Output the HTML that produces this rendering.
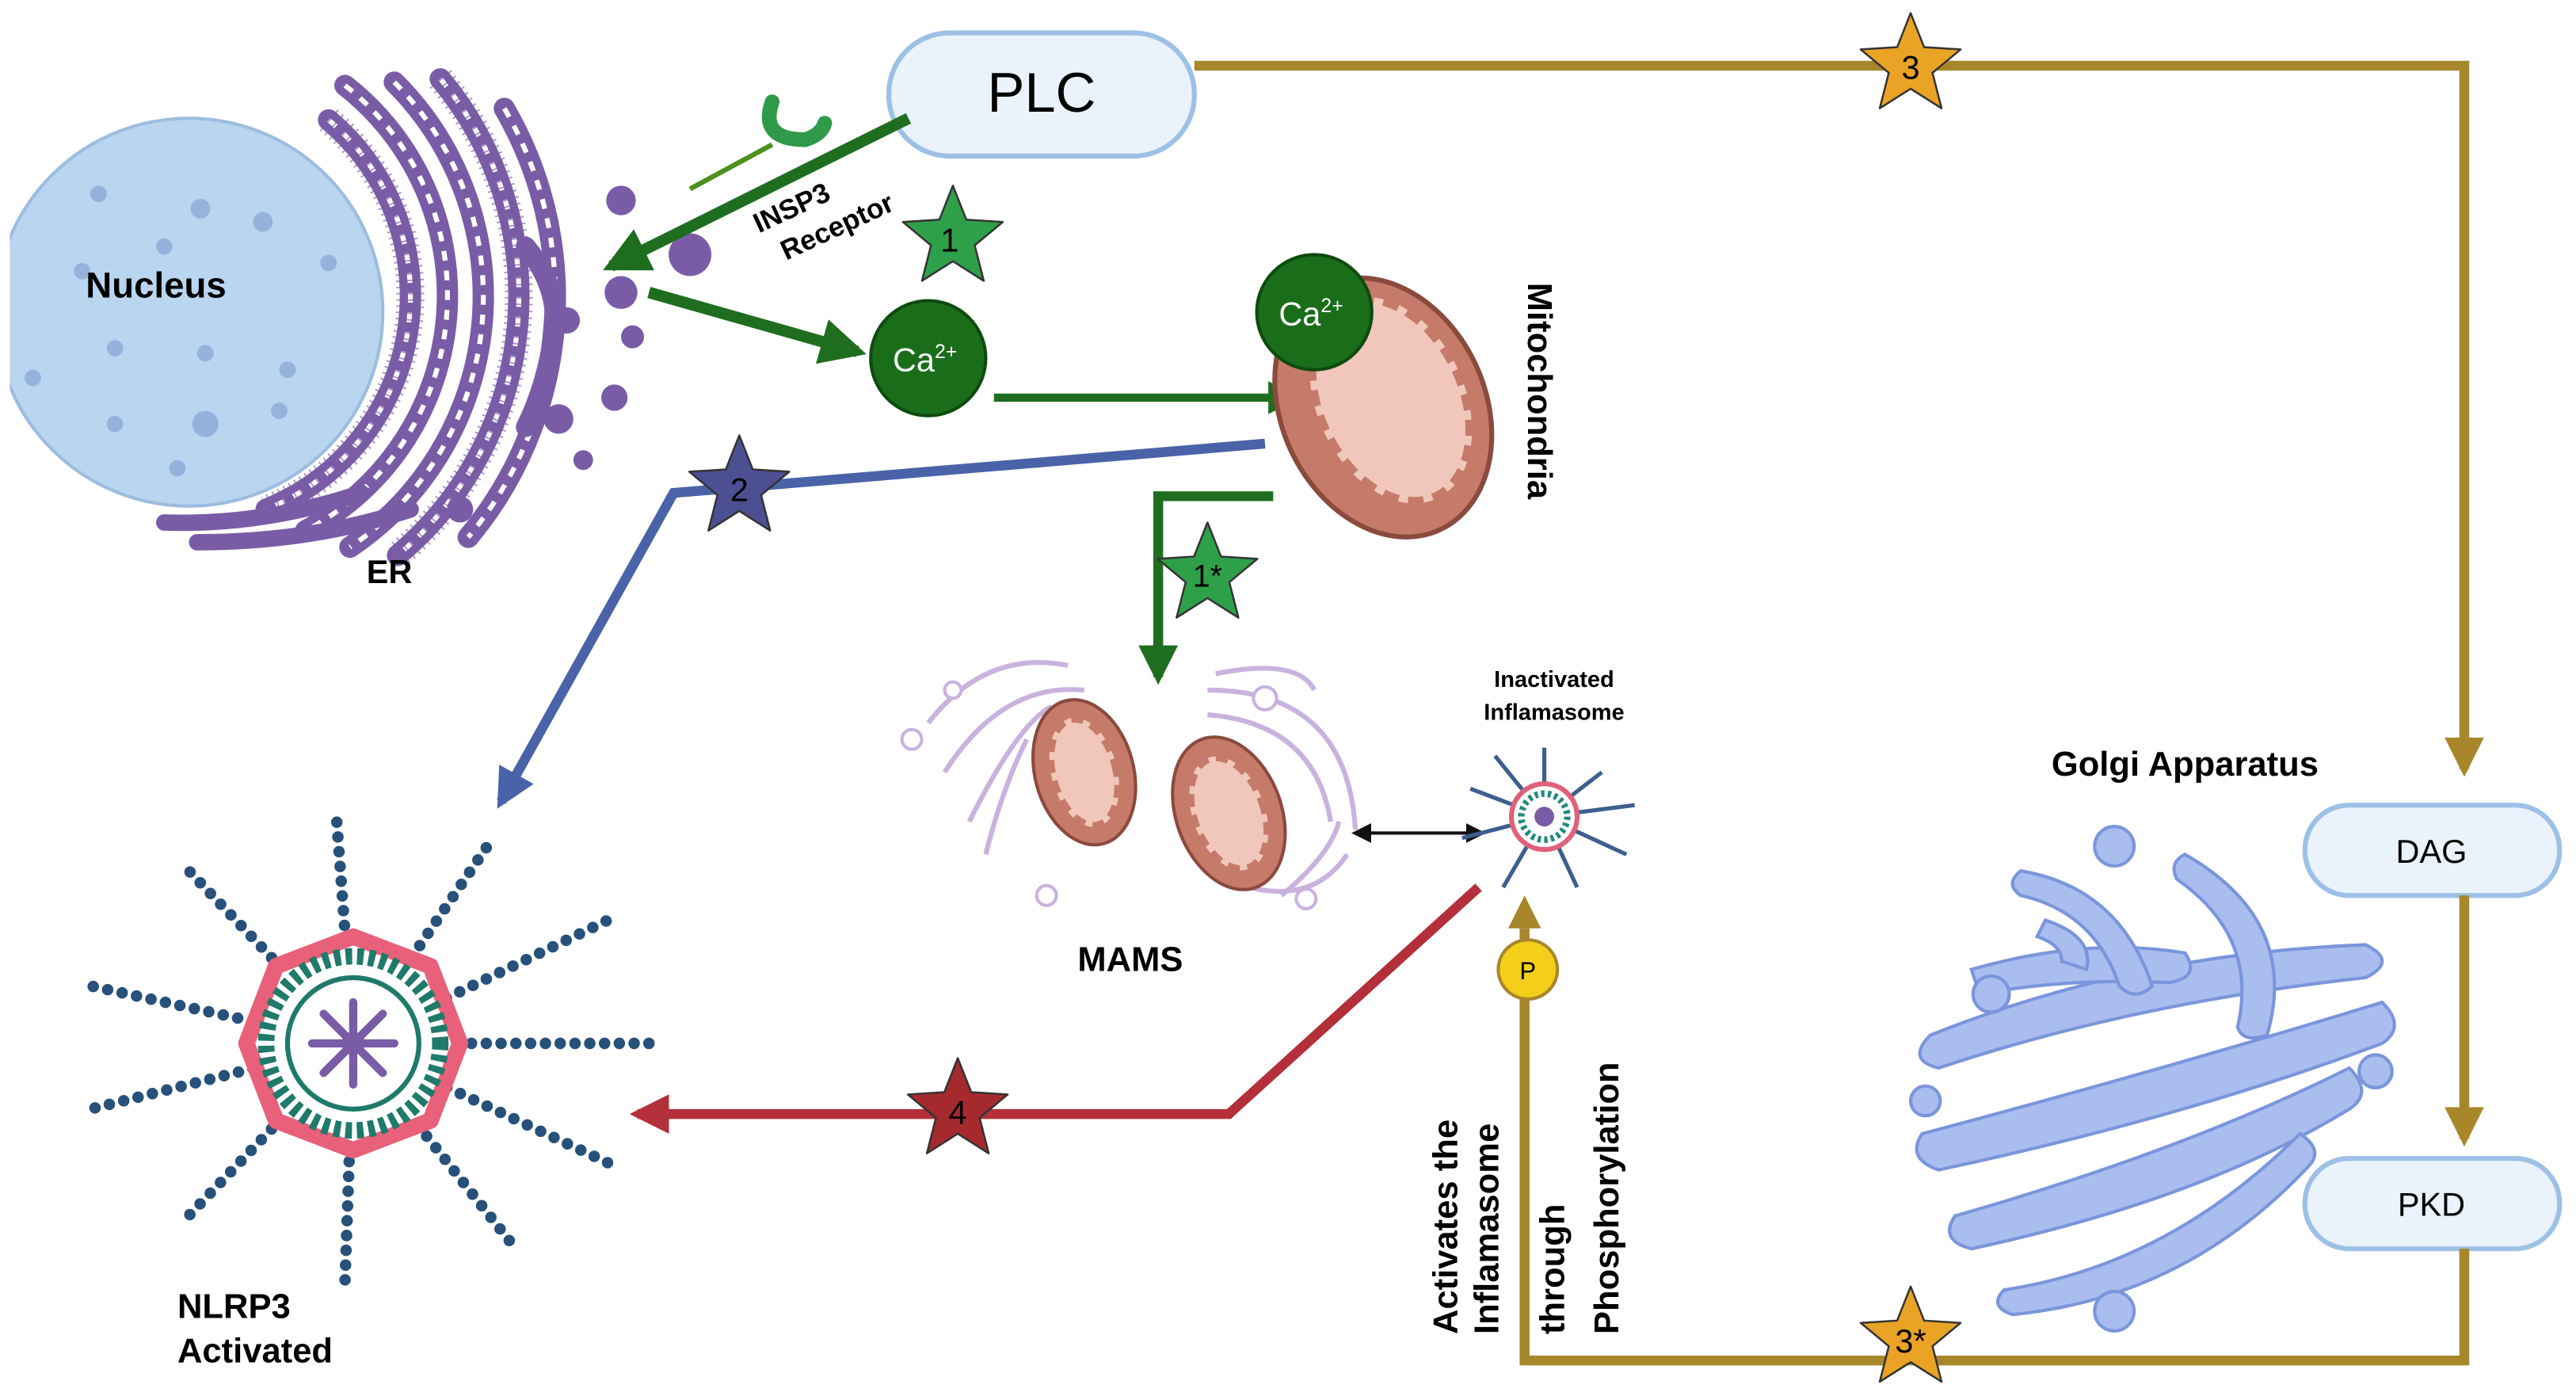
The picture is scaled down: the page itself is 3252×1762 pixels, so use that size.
<!DOCTYPE html>
<html><head><meta charset="utf-8"><style>
html,body{margin:0;padding:0;background:#fff;}
svg{display:block;}
text{font-family:"Liberation Sans",Arial,sans-serif;}
</style></head><body>
<svg width="3252" height="1762" viewBox="0 0 1568 849.6" preserveAspectRatio="none" xmlns="http://www.w3.org/2000/svg">
<defs>
<polygon id="star" points="0,-32 8.2,-11.3 30.4,-9.9 13.3,4.3 18.8,25.9 0,14 -18.8,25.9 -13.3,4.3 -30.4,-9.9 -8.2,-11.3" stroke="#333" stroke-width="1.2" stroke-linejoin="round"/>
<marker id="ag" viewBox="0 0 10 10" refX="8" refY="5" markerWidth="4" markerHeight="4" orient="auto-start-reverse"><path d="M0,0 L10,5 L0,10 z" fill="#1f6e1f"/></marker>
<marker id="ab" viewBox="0 0 10 10" refX="8" refY="5" markerWidth="4" markerHeight="4" orient="auto"><path d="M0,0 L10,5 L0,10 z" fill="#4a63a8"/></marker>
<marker id="ar" viewBox="0 0 10 10" refX="8" refY="5" markerWidth="4" markerHeight="4" orient="auto"><path d="M0,0 L10,5 L0,10 z" fill="#b3303a"/></marker>
<marker id="ao" viewBox="0 0 10 10" refX="8" refY="5" markerWidth="4" markerHeight="4" orient="auto"><path d="M0,0 L10,5 L0,10 z" fill="#a8862a"/></marker>
<marker id="ak" viewBox="0 0 10 10" refX="8" refY="5" markerWidth="6" markerHeight="6" orient="auto-start-reverse"><path d="M0,0 L10,5 L0,10 z" fill="#111"/></marker>
</defs>

<!-- Nucleus -->
<circle cx="115" cy="190" r="118" fill="#b9d5f0" stroke="#9cbde0" stroke-width="2"/>
<rect x="0" y="60" width="6" height="270" fill="#fff"/>
<g fill="#93b3dd">
<circle cx="122" cy="127" r="6"/><circle cx="60" cy="118" r="5"/><circle cx="100" cy="150" r="5"/><circle cx="50" cy="165" r="5"/><circle cx="160" cy="135" r="6"/><circle cx="70" cy="212" r="5"/><circle cx="125" cy="215" r="5"/><circle cx="175" cy="225" r="5"/><circle cx="70" cy="258" r="5"/><circle cx="125" cy="258" r="8"/><circle cx="170" cy="250" r="5"/><circle cx="108" cy="285" r="5"/><circle cx="200" cy="160" r="5"/><circle cx="20" cy="230" r="5"/>
</g>
<text x="95" y="181" font-size="22" font-weight="bold" text-anchor="middle">Nucleus</text>

<!-- ER -->
<g fill="none" stroke="#7a5ca6" stroke-linecap="round" stroke-width="13">
<path d="M200,73 A140,140 0 0 1 162,310"/>
<path d="M210,52 A162,162 0 0 1 186,323"/>
<path d="M240,50 A184,184 0 0 1 213,333"/>
<path d="M268,48 A206,206 0 0 1 242,338"/>
<path d="M307,66 A228,228 0 0 1 285,327"/>
</g>
<g fill="none" stroke="#fff" stroke-width="3" stroke-dasharray="6 6">
<path d="M200,73 A140,140 0 0 1 162,310"/>
<path d="M210,52 A162,162 0 0 1 186,323"/>
<path d="M240,50 A184,184 0 0 1 213,333"/>
<path d="M268,48 A206,206 0 0 1 242,338"/>
<path d="M307,66 A228,228 0 0 1 285,327"/>
</g>
<g fill="none" stroke="#7a5ca6" stroke-width="12" stroke-dasharray="1 3">
<path d="M200,73 A140,140 0 0 1 162,310" stroke-width="17" stroke-opacity="0.6"/>
<path d="M268,48 A206,206 0 0 1 242,338" stroke-width="17" stroke-opacity="0.6"/>
</g>
<path d="M100,318 Q160,320 220,300 M120,330 Q190,330 250,310" fill="none" stroke="#7a5ca6" stroke-width="10" stroke-linecap="round"/>
<path d="M320,150 Q345,180 335,215 Q330,240 320,260" fill="none" stroke="#7a5ca6" stroke-width="12" stroke-linecap="round"/>
<g fill="#7a5ca6"><circle cx="378" cy="122" r="9"/><circle cx="420" cy="155" r="13"/><circle cx="378" cy="178" r="10"/><circle cx="385" cy="205" r="7"/><circle cx="374" cy="242" r="8"/><circle cx="340" cy="255" r="9"/><circle cx="280" cy="310" r="8"/><circle cx="355" cy="280" r="6"/><circle cx="345" cy="195" r="8"/></g>
<text x="237" y="355" font-size="20" font-weight="bold" text-anchor="middle">ER</text>

<!-- PLC -->
<rect x="541" y="20" width="186" height="75" rx="37" fill="#eaf2fb" stroke="#9dc0e6" stroke-width="3"/>
<text x="634" y="68" font-size="34" text-anchor="middle">PLC</text>

<!-- gold path -->
<polyline points="727,40 1500,40 1500,468" fill="none" stroke="#a8862a" stroke-width="6" marker-end="url(#ao)"/>
<use href="#star" x="1163" y="40" fill="#e9a325"/>
<text x="1163" y="48" font-size="20" text-anchor="middle">3</text>
<rect x="1403" y="490" width="155" height="55" rx="27" fill="#eaf2fb" stroke="#9dc0e6" stroke-width="3"/>
<text x="1480" y="525" font-size="20" text-anchor="middle">DAG</text>
<line x1="1500" y1="545" x2="1500" y2="693" stroke="#a8862a" stroke-width="6" marker-end="url(#ao)"/>
<rect x="1403" y="705" width="155" height="55" rx="27" fill="#eaf2fb" stroke="#9dc0e6" stroke-width="3"/>
<text x="1480" y="740" font-size="20" text-anchor="middle">PKD</text>
<polyline points="1500,760 1500,828 928,828 928,565" fill="none" stroke="#a8862a" stroke-width="6"/>
<polygon points="928,545 918,565 938,565" fill="#a8862a"/>
<use href="#star" x="1163" y="815" fill="#e9a325"/>
<text x="1163" y="823" font-size="20" text-anchor="middle">3*</text>
<circle cx="930" cy="590" r="18" fill="#f3cf1a" stroke="#a8862a" stroke-width="2"/>
<text x="930" y="596" font-size="15" text-anchor="middle">P</text>
<g font-size="21" font-weight="bold" text-anchor="start">
<text transform="translate(887,812) rotate(-90)">Activates the</text>
<text transform="translate(912,812) rotate(-90)">Inflamasome</text>
<text transform="translate(952,812) rotate(-90)">through</text>
<text transform="translate(985,812) rotate(-90)">Phosphorylation</text>
</g>

<!-- Golgi -->
<g fill="#a9bdef" stroke="#7b95dc" stroke-width="2">
<path d="M1175,630 Q1300,580 1440,575 Q1460,585 1440,595 Q1300,610 1180,650 Q1160,645 1175,630z"/>
<path d="M1200,590 Q1270,570 1330,580 Q1340,595 1320,598 Q1260,595 1205,605z"/>
<path d="M1170,690 Q1320,650 1450,610 Q1465,625 1450,635 Q1330,680 1180,712 Q1160,705 1170,690z"/>
<path d="M1190,740 Q1330,700 1430,650 Q1445,665 1430,675 Q1340,730 1200,760 Q1180,755 1190,740z"/>
<path d="M1230,530 Q1290,540 1310,600 Q1300,610 1290,600 Q1275,555 1230,545 Q1220,538 1230,530z"/>
<path d="M1330,520 Q1400,560 1380,630 Q1365,635 1362,625 Q1375,570 1325,535 Q1320,525 1330,520z"/>
<path d="M1245,560 Q1275,570 1270,590 L1255,585 Q1255,575 1240,570z"/>
<path d="M1220,785 Q1320,770 1400,690 Q1415,700 1405,710 Q1330,790 1225,800 Q1210,795 1220,785z"/>
</g>
<g fill="#a9bdef" stroke="#7b95dc" stroke-width="2"><circle cx="1287" cy="515" r="12"/><circle cx="1212" cy="605" r="11"/><circle cx="1172" cy="670" r="9"/><circle cx="1446" cy="652" r="10"/><circle cx="1287" cy="798" r="12"/></g>
<text x="1330" y="472" font-size="21" font-weight="bold" text-anchor="middle">Golgi Apparatus</text>

<!-- Green arrows -->
<line x1="420" y1="115" x2="470" y2="88" stroke="#4e8f1e" stroke-width="3"/>
<path d="M470,62 Q462,85 490,85 Q500,82 502,75" fill="none" stroke="#2f9a4a" stroke-width="9" stroke-linecap="round"/>
<line x1="553" y1="72" x2="372" y2="162" stroke="#1f6e1f" stroke-width="7" marker-end="url(#ag)"/>
<g transform="translate(462,142) rotate(-25)" font-size="17" font-weight="bold"><text x="0" y="0">INSP3</text><text x="8" y="22">Receptor</text></g>
<use href="#star" x="580" y="145" fill="#2fa04a"/>
<text x="578" y="153" font-size="20" text-anchor="middle">1</text>
<line x1="395" y1="178" x2="522" y2="214" stroke="#1f6e1f" stroke-width="7" marker-end="url(#ag)"/>
<circle cx="565" cy="218" r="35" fill="#1a6e1a" stroke="#0f4a0f" stroke-width="2"/>
<text x="563" y="226" font-size="20" fill="#fff" text-anchor="middle">Ca<tspan font-size="12" dy="-8">2+</tspan></text>
<line x1="605" y1="242" x2="788" y2="242" stroke="#1f6e1f" stroke-width="5" marker-end="url(#ag)"/>

<!-- Mitochondria -->
<g transform="translate(842,248) rotate(-25)">
<ellipse cx="0" cy="0" rx="62" ry="82" fill="#c67a6a" stroke="#8a4a3e" stroke-width="3"/>
<ellipse cx="6" cy="-2" rx="45" ry="66" fill="#f1c7bc" stroke="#c67a6a" stroke-width="8" stroke-dasharray="10 6"/>
</g>
<circle cx="800" cy="190" r="35" fill="#1a6e1a" stroke="#0f4a0f" stroke-width="2"/>
<text x="798" y="198" font-size="20" fill="#fff" text-anchor="middle">Ca<tspan font-size="12" dy="-8">2+</tspan></text>
<text transform="translate(930,172) rotate(90)" font-size="21" font-weight="bold">Mitochondria</text>

<polyline points="775,302 705,302 705,412" fill="none" stroke="#1f6e1f" stroke-width="6" marker-end="url(#ag)"/>
<use href="#star" x="735" y="350" fill="#2fa04a"/>
<text x="735" y="357" font-size="19" text-anchor="middle">1*</text>

<!-- blue path -->
<polyline points="770,270 410,300 305,488" fill="none" stroke="#4a63a8" stroke-width="6" marker-end="url(#ab)"/>
<use href="#star" x="450" y="297" fill="#4d4f93"/>
<text x="450" y="305" font-size="20" text-anchor="middle">2</text>

<!-- MAMS -->
<g fill="none" stroke="#c9b3de" stroke-width="3">
<path d="M565,440 Q600,395 650,405"/><path d="M575,470 Q610,415 660,420"/><path d="M590,500 Q620,440 640,430"/><path d="M600,520 Q610,480 625,450"/>
<path d="M735,435 Q800,440 810,500"/><path d="M735,420 Q820,420 825,505"/><path d="M780,545 Q810,520 815,500"/><path d="M760,540 Q800,550 820,520"/><path d="M740,410 Q790,400 800,420"/>
</g>
<g fill="#fff" stroke="#c9b3de" stroke-width="2"><circle cx="555" cy="450" r="6"/><circle cx="637" cy="545" r="6"/><circle cx="770" cy="425" r="7"/><circle cx="795" cy="547" r="6"/><circle cx="580" cy="420" r="5"/></g>
<g transform="translate(660,470) rotate(-15)"><ellipse rx="30" ry="45" fill="#c67a6a" stroke="#8a4a3e" stroke-width="2"/><ellipse rx="20" ry="34" fill="#f1c7bc" stroke="#c67a6a" stroke-width="6" stroke-dasharray="8 5"/></g>
<g transform="translate(748,495) rotate(-20)"><ellipse rx="32" ry="48" fill="#c67a6a" stroke="#8a4a3e" stroke-width="2"/><ellipse rx="22" ry="36" fill="#f1c7bc" stroke="#c67a6a" stroke-width="6" stroke-dasharray="8 5"/></g>
<text x="688" y="591" font-size="21" font-weight="bold" text-anchor="middle">MAMS</text>
<line x1="825" y1="507" x2="902" y2="507" stroke="#111" stroke-width="2" marker-start="url(#ak)" marker-end="url(#ak)"/>

<!-- inactivated -->
<g stroke="#3d5f8f" stroke-width="2.5">
<line x1="940" y1="497" x2="940" y2="455"/><line x1="940" y1="497" x2="975" y2="470"/><line x1="940" y1="497" x2="995" y2="490"/><line x1="940" y1="497" x2="990" y2="520"/><line x1="940" y1="497" x2="960" y2="540"/><line x1="940" y1="497" x2="915" y2="540"/><line x1="940" y1="497" x2="890" y2="510"/><line x1="940" y1="497" x2="895" y2="480"/><line x1="940" y1="497" x2="910" y2="460"/>
</g>
<circle cx="940" cy="497" r="20" fill="#fff" stroke="#e0607a" stroke-width="3"/>
<circle cx="940" cy="497" r="14" fill="#fff" stroke="#1f8a7a" stroke-width="4" stroke-dasharray="2 2"/>
<circle cx="940" cy="497" r="6" fill="#7a5ca6"/>
<text x="946" y="418" font-size="14" font-weight="bold" text-anchor="middle">Inactivated</text>
<text x="946" y="438" font-size="14" font-weight="bold" text-anchor="middle">Inflamasome</text>

<!-- red path -->
<polyline points="900,540 748,678 388,678" fill="none" stroke="#b3303a" stroke-width="6" marker-end="url(#ar)"/>
<use href="#star" x="583" y="676" fill="#a52a2e"/>
<text x="583" y="684" font-size="20" text-anchor="middle">4</text>

<!-- NLRP3 -->
<g stroke="#27507a" stroke-width="7" stroke-dasharray="0 9" stroke-linecap="round" fill="none">
<line x1="215" y1="635" x2="55" y2="600"/><line x1="215" y1="635" x2="55" y2="675"/><line x1="215" y1="635" x2="110" y2="745"/><line x1="215" y1="635" x2="210" y2="780"/><line x1="215" y1="635" x2="310" y2="755"/><line x1="215" y1="635" x2="375" y2="710"/><line x1="215" y1="635" x2="400" y2="635"/><line x1="215" y1="635" x2="370" y2="560"/><line x1="215" y1="635" x2="300" y2="510"/><line x1="215" y1="635" x2="205" y2="500"/><line x1="215" y1="635" x2="115" y2="530"/>
</g>
<polygon points="215,570 262,588 280,635 262,682 215,700 168,682 150,635 168,588" fill="#fff" stroke="#e8607a" stroke-width="10" stroke-linejoin="round"/>
<circle cx="215" cy="635" r="56" fill="#fff"/>
<circle cx="215" cy="635" r="53" fill="none" stroke="#1f7a6a" stroke-width="10" stroke-dasharray="4 3"/>
<circle cx="215" cy="635" r="40" fill="#fff" stroke="#1f7a6a" stroke-width="3"/>
<g stroke="#7a5ca6" stroke-width="5" stroke-linecap="round">
<line x1="215" y1="610" x2="215" y2="660"/><line x1="190" y1="635" x2="240" y2="635"/><line x1="197" y1="617" x2="233" y2="653"/><line x1="233" y1="617" x2="197" y2="653"/>
</g>
<circle cx="215" cy="635" r="7" fill="#7a5ca6"/>
<text x="108" y="802" font-size="21" font-weight="bold">NLRP3</text>
<text x="108" y="829" font-size="21" font-weight="bold">Activated</text>
</svg>
</body></html>
